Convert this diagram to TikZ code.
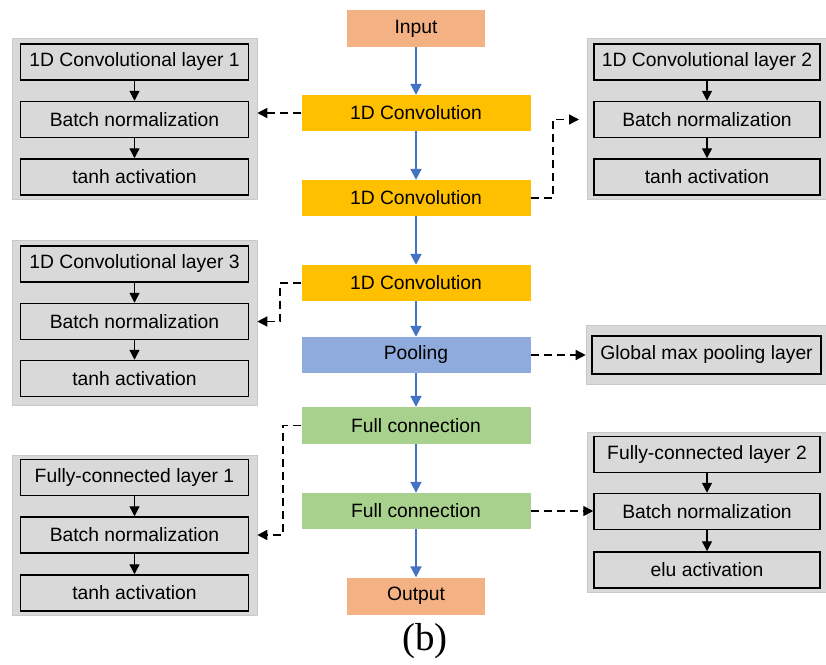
\documentclass[tikz,border=0pt]{standalone}
\usepackage{fontspec}
\setmainfont{Liberation Sans}
\newfontfamily\capfont{Liberation Serif}
\usetikzlibrary{arrows.meta,calc}
\definecolor{inorange}{HTML}{F4B183}
\definecolor{convyellow}{HTML}{FFC000}
\definecolor{poolblue}{HTML}{8FAADC}
\definecolor{fcgreen}{HTML}{A9D18E}
\definecolor{arrowblue}{HTML}{4472C4}
\definecolor{panelgray}{HTML}{D9D9D9}
\definecolor{paneledge}{HTML}{C8C8C8}
\begin{document}
\begin{tikzpicture}[x=1pt,y=-1pt,
  txt/.style={font=\fontsize{19.3}{21}\selectfont},
  mainbox/.style={txt,draw=none,minimum width=229pt,minimum height=36pt,inner sep=0pt},
  endbox/.style={txt,draw=none,minimum width=138pt,minimum height=37pt,inner sep=0pt,fill=inorange},
  panel/.style={fill=panelgray,draw=paneledge,line width=0.6pt},
  subbox/.style={txt,fill=panelgray,draw=black,line width=1.5pt,minimum width=228pt,minimum height=36pt,inner sep=0pt},
  flow/.style={draw=arrowblue,line width=2pt,-{Triangle[length=11pt,width=11pt]}},
  inarrow/.style={draw=black,line width=1.3pt,-{Triangle[length=10pt,width=10pt]}},
  link/.style={draw=black,line width=1.4pt,dash pattern=on 8pt off 5pt,-{Triangle[length=10pt,width=10pt]}}
]
\useasboundingbox (0,0) rectangle (826,664);
% main column
\node[endbox] (in) at (416,28.5) {Input};
\node[mainbox,fill=convyellow] (c1) at (416,113) {1D Convolution};
\node[mainbox,fill=convyellow] (c2) at (416,198) {1D Convolution};
\node[mainbox,fill=convyellow] (c3) at (416,283) {1D Convolution};
\node[mainbox,fill=poolblue] (pool) at (416,355) {Pooling};
\node[mainbox,fill=fcgreen,minimum height=37pt] (f1) at (416,425.5) {Full connection};
\node[mainbox,fill=fcgreen] (f2) at (416,511) {Full connection};
\node[endbox] (out) at (416,596) {Output};
\foreach \a/\b in {in/c1,c1/c2,c2/c3,c3/pool,pool/f1,f1/f2,f2/out}
  \draw[flow] (\a) -- (\b);
\node[font=\capfont\fontsize{39}{41}\selectfont] (cap) at (425,641) {(b)};

% left panel 1
\node[panel,minimum width=245pt,minimum height=161pt,inner sep=0pt] (p1) at (134.5,118.5) {};
\node[subbox] (p1a) at (134.5,62) {1D Convolutional layer 1};
\node[subbox] (p1b) at (134.5,119.5) {Batch normalization};
\node[subbox] (p1c) at (134.5,177) {tanh activation};
\draw[inarrow] (p1a) -- (p1b);
\draw[inarrow] (p1b) -- (p1c);

% right panel 1
\node[panel,minimum width=240pt,minimum height=161pt,inner sep=0pt] (p2) at (707,118.5) {};
\node[subbox,minimum width=226pt] (p2a) at (707,62) {1D Convolutional layer 2};
\node[subbox,minimum width=226pt] (p2b) at (707,119.5) {Batch normalization};
\node[subbox,minimum width=226pt] (p2c) at (707,177) {tanh activation};
\draw[inarrow] (p2a) -- (p2b);
\draw[inarrow] (p2b) -- (p2c);

% left panel 2
\node[panel,minimum width=245pt,minimum height=165pt,inner sep=0pt] (p3) at (134.5,322.5) {};
\node[subbox] (p3a) at (134.5,264) {1D Convolutional layer 3};
\node[subbox] (p3b) at (134.5,321.5) {Batch normalization};
\node[subbox] (p3c) at (134.5,378.5) {tanh activation};
\draw[inarrow] (p3a) -- (p3b);
\draw[inarrow] (p3b) -- (p3c);

% right pooling panel
\node[panel,minimum width=241pt,minimum height=59pt,inner sep=0pt] (p4) at (706.5,354.5) {};
\node[subbox,minimum width=229pt,minimum height=38pt] (p4a) at (706.5,355) {Global max pooling layer};

% left panel 3
\node[panel,minimum width=245pt,minimum height=160pt,inner sep=0pt] (p5) at (134.5,535) {};
\node[subbox] (p5a) at (134.5,477.5) {Fully-connected layer 1};
\node[subbox] (p5b) at (134.5,535) {Batch normalization};
\node[subbox] (p5c) at (134.5,593) {tanh activation};
\draw[inarrow] (p5a) -- (p5b);
\draw[inarrow] (p5b) -- (p5c);

% right panel 2
\node[panel,minimum width=240pt,minimum height=160pt,inner sep=0pt] (p6) at (707,512) {};
\node[subbox,minimum width=226pt] (p6a) at (707,454.5) {Fully-connected layer 2};
\node[subbox,minimum width=226pt] (p6b) at (707,511.5) {Batch normalization};
\node[subbox,minimum width=226pt] (p6c) at (707,570) {elu activation};
\draw[inarrow] (p6a) -- (p6b);
\draw[inarrow] (p6b) -- (p6c);

% dashed links
\draw[link] (c1.west) -- (c1.west -| p1.east);
\coordinate (k2) at (553,0);
\coordinate (e2) at (579,119.5);
\draw[link] (c2.east) -- (c2.east -| k2) -- (k2 |- e2) -- (e2);
\coordinate (k3) at (280,0);
\draw[link] (c3.west) -- (c3.west -| k3) -- (k3 |- p3b) -- (p3b -| p3.east);
\draw[link] (pool.east) -- (pool.east -| p4.west);
\coordinate (k5) at (283,0);
\draw[link] (f1.west) -- (f1.west -| k5) -- (k5 |- p5b) -- (p5b -| p5.east);
\draw[link] (f2.east) -- (f2.east -| p6b.west);
\end{tikzpicture}
\end{document}
